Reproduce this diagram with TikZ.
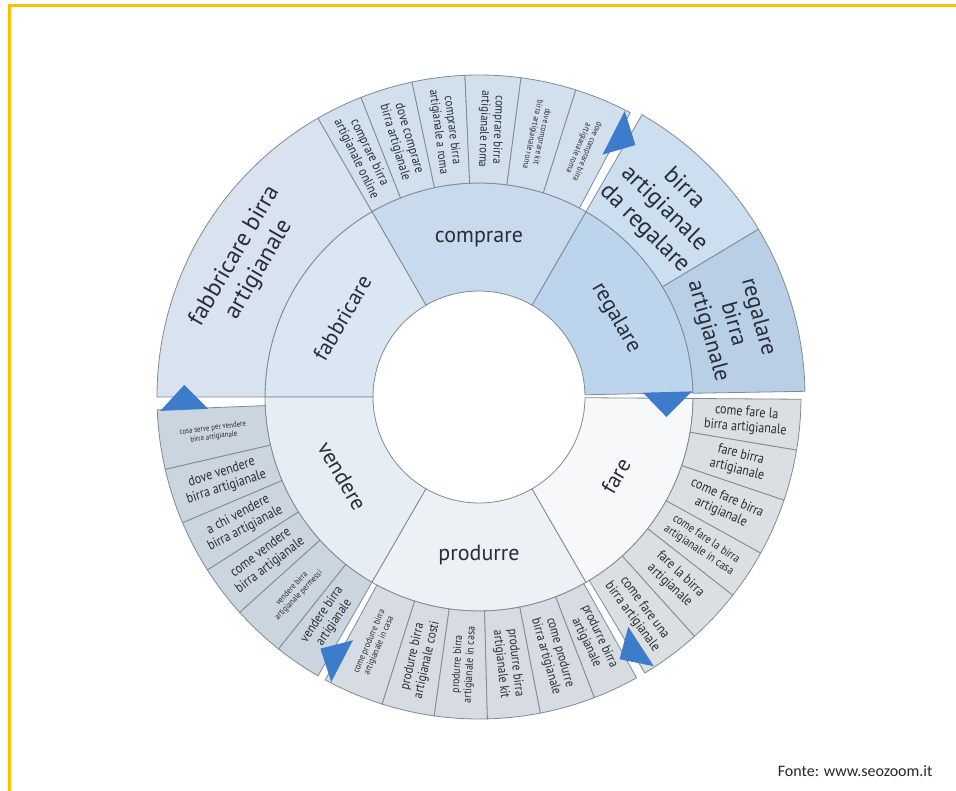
\documentclass[tikz,border=0pt]{standalone}
\usepackage{fontspec}
\setmainfont{PT Sans}
\newfontfamily\keyfont{PT Sans}[FakeStretch=0.86]
\newfontfamily\notefont{Carlito}
\usepackage{xcolor}

\definecolor{framegold}{RGB}{255,192,0}
\definecolor{ringgrey}{RGB}{128,138,150}
\definecolor{labelink}{RGB}{40,45,54}
\definecolor{markblue}{RGB}{60,124,203}
\definecolor{giftfill}{RGB}{188,212,236}
\definecolor{gifthigh}{RGB}{204,223,241}
\definecolor{giftlow}{RGB}{185,207,230}
\definecolor{buyfill}{RGB}{200,219,238}
\definecolor{buyouter}{RGB}{210,224,238}
\definecolor{craftfill}{RGB}{218,230,242}
\definecolor{craftouter}{RGB}{216,227,239}
\definecolor{sellfill}{RGB}{231,237,244}
\definecolor{sellouter}{RGB}{203,213,223}
\definecolor{makefill}{RGB}{237,241,246}
\definecolor{makeouter}{RGB}{214,220,226}
\definecolor{brewfill}{RGB}{247,248,250}
\definecolor{brewouter}{RGB}{220,223,226}

\tikzset{every picture/.style={line width=0.75pt}}
\tikzset{
ring line/.style={draw=ringgrey, line width=0.6pt},
hub label/.style={font=\fontsize{16.5}{18}\selectfont, text=labelink, inner sep=0.75pt},
big label/.style={font=\fontsize{18}{21}\selectfont, text=labelink, align=center, inner sep=0.75pt},
key label/.style={text=labelink, align=center, inner sep=0.75pt}}

% ring sector: from angle, to angle, inner radius, outer radius, fill
\newcommand{\ringpart}[5]{%
\filldraw[fill=#5, ring line] (#1:#3) arc[start angle=#1, end angle=#2, radius=#3] -- (#2:#4) arc[start angle=#2, end angle=#1, radius=#4] -- cycle;}
% blue arrow head: base angle, inner radius, outer radius
\newcommand{\turnmark}[3]{%
\fill[markblue] (#1:#2) -- (#1:#3) -- ({#1-2865/(#2+#3)}:{(#2+#3)/2}) -- cycle;}

\begin{document}
\begin{tikzpicture}[x=0.75pt,y=0.75pt]
\useasboundingbox (-479,-394) rectangle (477,397);

%Frame
\draw[framegold, line width=2.25pt] (-469.5,-394) -- (-469.5,391) -- (477,391);

%Inner ring
\ringpart{1.2}{60}{106}{214}{giftfill}
\ringpart{60}{120}{106}{214}{buyfill}
\ringpart{120}{180}{106}{214}{craftfill}
\ringpart{180}{240}{106}{214}{sellfill}
\ringpart{240}{300}{106}{214}{makefill}
\ringpart{300}{359.6}{106}{214}{brewfill}

%Outer ring, single sectors
\ringpart{1}{31}{214}{326}{giftlow}
\ringpart{31}{60}{214}{326}{gifthigh}
\ringpart{120}{180}{214}{322}{craftouter}

% Text Node
\node[hub label, rotate=-60] (gift) at (30:158) {regalare};
\node[hub label] (buy) at (90:158) {comprare};
\node[hub label, rotate=60] (craft) at (150:158) {fabbricare};
\node[hub label, rotate=-60] (sell) at (210:158) {vendere};
\node[hub label] (make) at (270:158) {produrre};
\node[hub label, rotate=60] (brew) at (330:158) {fare};

% Text Node
\node[big label, rotate=60] (craftkey) at (150:268) {fabbricare birra\\artigianale};
\node[big label, rotate=-44.5] (giftkey) at (45.5:264) {birra\\artigianale\\da regalare};
\node[big label, font=\fontsize{17}{19.5}\selectfont, rotate=-74.5] (giftkeyb) at (16:264) {regalare\\birra\\artigianale};

%Outer ring: comprare
\foreach \a/\b/\txt/\fs [count=\i] in {
111.5/120/{comprare birra\\artigianale online}/10,
102/111.5/{dove comprare\\birra artigianale}/10,
92.5/102/{comprare birra\\artigianale a roma}/9.5,
82.5/92.5/{comprare birra\\artigianale roma}/9.5,
72.5/82.5/{dove comprare kit\\birra artigianale roma}/6.5,
62/72.5/{dove comprare birra\\artigianale roma}/6.5}{
\ringpart{\a}{\b}{214}{322}{buyouter}
\pgfmathsetmacro\midang{(\a+\b)/2}
\pgfmathsetmacro\tilt{\midang-180}
\pgfmathsetmacro\keyskip{1.1*\fs}
\node[key label, font=\keyfont\fontsize{\fs}{\keyskip}\selectfont, rotate=\tilt] (buy\i) at (\midang:268) {\txt};
}

%Outer ring: vendere
\foreach \a/\b/\txt/\fs [count=\i] in {
182.3/193/{cosa serve per vendere\\birra artigianale}/6,
193/203/{dove vendere\\birra artigianale}/10.5,
203/212.5/{a chi vendere\\birra artigianale}/10.5,
212.5/222/{come vendere\\birra artigianale}/10.5,
222/231.5/{vendere birra\\artigianale permessi}/6.5,
231.5/240/{vendere birra\\artigianale}/10}{
\ringpart{\a}{\b}{214}{322}{sellouter}
\pgfmathsetmacro\midang{(\a+\b)/2}
\pgfmathsetmacro\tilt{\midang-180}
\pgfmathsetmacro\keyskip{1.1*\fs}
\node[key label, font=\keyfont\fontsize{\fs}{\keyskip}\selectfont, rotate=\tilt] (sell\i) at (\midang:268) {\txt};
}

%Outer ring: produrre
\foreach \a/\b/\txt/\fs [count=\i] in {
241.5/252.5/{come produrre birra\\artigianale in casa}/7,
252.5/262/{produrre birra\\artigianale costi}/10,
262/271.5/{produrre birra\\artigianale in casa}/8.5,
271.5/281/{produrre birra\\artigianale kit}/10,
281/291/{come produrre\\birra artigianale}/10,
291/299.3/{produrre birra\\artigianale}/10}{
\ringpart{\a}{\b}{214}{322}{makeouter}
\pgfmathsetmacro\midang{(\a+\b)/2}
\pgfmathsetmacro\tilt{ifthenelse(\midang<270,\midang-180,\midang)}
\pgfmathsetmacro\keyskip{1.1*\fs}
\node[key label, font=\keyfont\fontsize{\fs}{\keyskip}\selectfont, rotate=\tilt] (make\i) at (\midang:268) {\txt};
}

%Outer ring: fare
\foreach \a/\b/\txt/\fs [count=\i] in {
350.5/359.6/{come fare la\\birra artigianale}/10.5,
341.3/350.5/{fare birra\\artigianale}/10.5,
331/341.3/{come fare birra\\artigianale}/10.5,
322/331/{come fare la birra\\artigianale in casa}/9,
312/322/{fare la birra\\artigianale}/10.5,
301/312/{come fare una\\birra artigianale}/10.5}{
\ringpart{\a}{\b}{214}{322}{brewouter}
\pgfmathsetmacro\midang{(\a+\b)/2}
\pgfmathsetmacro\keyskip{1.1*\fs}
\node[key label, font=\keyfont\fontsize{\fs}{\keyskip}\selectfont, rotate=\midang] (brew\i) at (\midang:268) {\txt};
}

%Arrow heads
\turnmark{63}{272}{321}
\turnmark{1.5}{164}{213}
\turnmark{303}{274}{321}
\turnmark{242.6}{274}{321}
\turnmark{182.5}{271}{319}

% Text Node
\node[font=\notefont\fontsize{12}{14}\selectfont, text=black!85, anchor=base east, inner sep=0pt] (source) at (454,-379) {Fonte: www.seozoom.it};
\end{tikzpicture}
\end{document}
